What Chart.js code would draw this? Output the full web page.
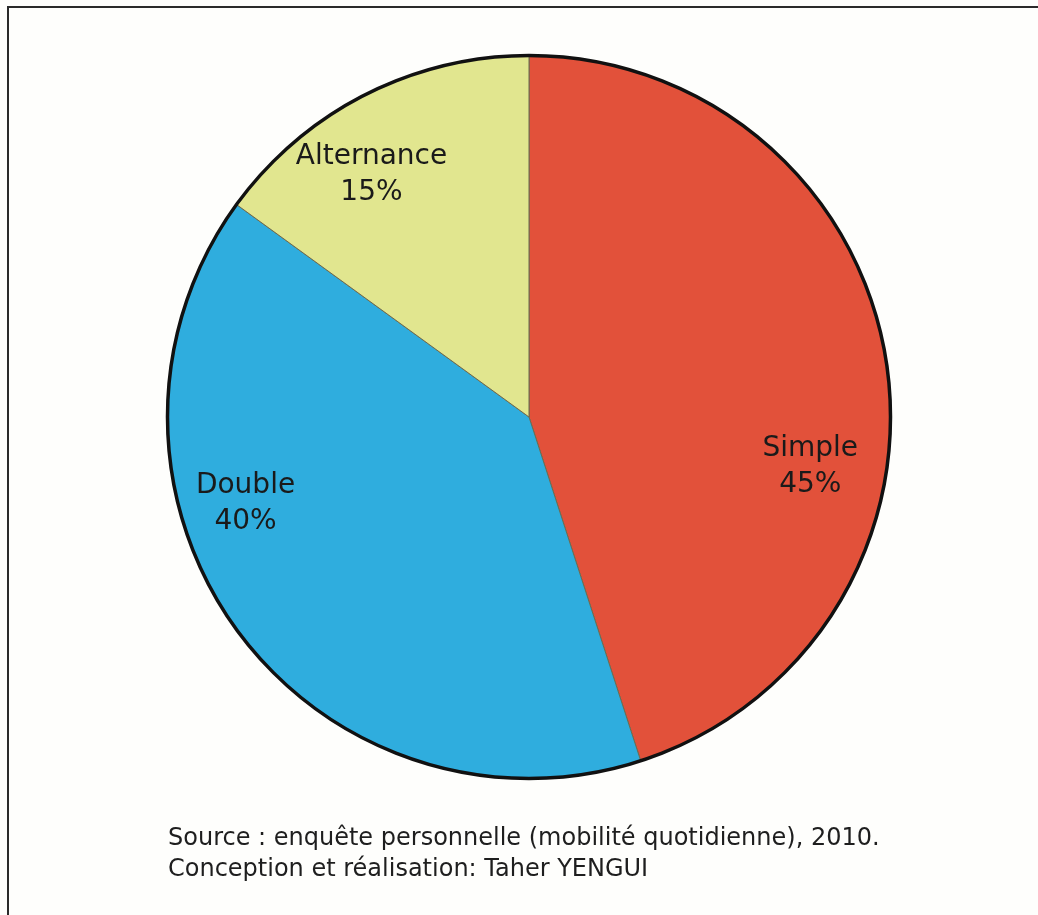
<!DOCTYPE html>
<html>
<head>
<meta charset="utf-8">
<script src="https://cdn.jsdelivr.net/npm/chart.js@4/dist/chart.umd.min.js"></script>
<style>
  body { margin: 0; background: #fefefc; }
  #wrap { position: relative; width: 1038px; height: 915px; overflow: hidden; }
  #frame { position: absolute; left: 7px; top: 6px; width: 1100px; height: 1000px;
           border-left: 2px solid #2a2a2a; border-top: 2px solid #2a2a2a; }
  #chart { position: absolute; left: 0; top: 0; }
  #source { position: absolute; left: 168px; top: 822px; font-family: "DejaVu Sans", sans-serif;
            font-size: 24px; line-height: 31px; color: #1e1e1e; }
</style>
</head>
<body>
<div id="wrap">
  <div id="frame"></div>
  <canvas id="chart" width="1038" height="915"></canvas>
  <div id="source">Source : enquête personnelle (mobilité quotidienne), 2010.<br>Conception et réalisation: Taher YENGUI</div>
</div>
<script>
// data
var categories = ["Simple", "Double", "Alternance"];
var values = [45, 40, 15];
var colors = ['#e2513a', '#2fadde', '#e1e68f'];

// where each label sits: angle from top (deg, clockwise) and fraction of radius
var labelPlace = [
    { angle: 100, r: 0.79 },
    { angle: 253, r: 0.82 },
    { angle: 327, r: 0.80 }
];

var outline = {
    id: 'outline',
    afterDatasetsDraw: function(chart) {
        var ctx = chart.ctx;
        var arc = chart.getDatasetMeta(0).data[0];
        ctx.save();
        ctx.beginPath();
        ctx.arc(arc.x, arc.y, arc.outerRadius, 0, Math.PI * 2);
        ctx.lineWidth = 3.5;
        ctx.strokeStyle = '#111';
        ctx.stroke();

        ctx.fillStyle = '#1a1a1a';
        ctx.font = '28px "DejaVu Sans", sans-serif';
        ctx.textAlign = 'center';
        ctx.textBaseline = 'middle';
        for (var i = 0; i < categories.length; i++) {
            var a = labelPlace[i].angle * Math.PI / 180;
            var rr = arc.outerRadius * labelPlace[i].r;
            var x = arc.x + rr * Math.sin(a);
            var y = arc.y - rr * Math.cos(a);
            ctx.fillText(categories[i], x, y - 18);
            ctx.fillText(values[i] + '%', x, y + 18);
        }
        ctx.restore();
    }
};

var ctx = document.getElementById('chart').getContext('2d');
var chart = new Chart(ctx, {
    type: 'pie',
    data: {
        labels: categories,
        datasets: [{
            data: values,
            backgroundColor: colors,
            borderColor: '#6b6b50',
            borderWidth: 1
        }]
    },
    options: {
        responsive: false,
        animation: false,
        layout: { padding: { left: 167, right: 147, top: 55, bottom: 136 } },
        plugins: { legend: { display: false }, tooltip: { enabled: false } }
    },
    plugins: [outline]
});
</script>
</body>
</html>
